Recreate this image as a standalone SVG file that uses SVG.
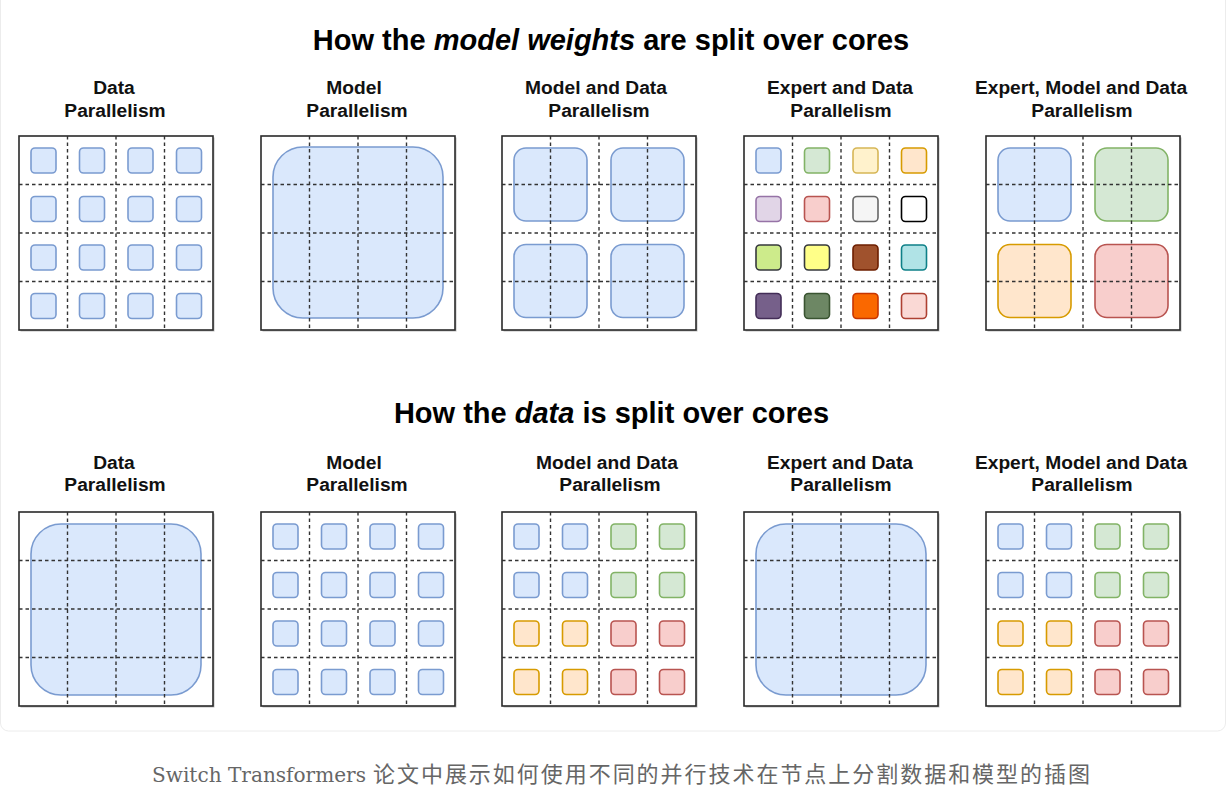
<svg xmlns="http://www.w3.org/2000/svg" xmlns:xlink="http://www.w3.org/1999/xlink" width="1226" height="799" viewBox="0 0 1226 799">
<style>
.title{font-family:"Liberation Sans",Arial,sans-serif;font-weight:bold;font-size:29px;fill:#000;text-anchor:middle}
.lbl{font-family:"Liberation Sans",Arial,sans-serif;font-weight:bold;font-size:19.2px;fill:#111;text-anchor:middle}
.frame{fill:#fff;stroke:#2a2a2a;stroke-width:1.6}
.shadow{fill:#bdbdbd}
.grid{fill:none;stroke:#333;stroke-width:1.4;stroke-dasharray:3.5 3}
.b{fill:#dae8fc;stroke:#7a9bd0;stroke-width:1.6}
.g{fill:#d5e8d4;stroke:#82b366;stroke-width:1.6}
.y{fill:#fff2cc;stroke:#d6b656;stroke-width:1.6}
.o{fill:#ffe6cc;stroke:#d79b00;stroke-width:1.6}
.p{fill:#e1d5e7;stroke:#9673a6;stroke-width:1.6}
.r{fill:#f8cecc;stroke:#b85450;stroke-width:1.6}
.gr{fill:#f5f5f5;stroke:#666;stroke-width:1.6}
.w{fill:#fff;stroke:#000;stroke-width:1.6}
.li{fill:#cdeb8b;stroke:#36393d;stroke-width:1.6}
.yb{fill:#ffff88;stroke:#36393d;stroke-width:1.6}
.br{fill:#a0522d;stroke:#6d1f00;stroke-width:1.6}
.te{fill:#b0e3e6;stroke:#0e8088;stroke-width:1.6}
.dp{fill:#76608a;stroke:#432d57;stroke-width:1.6}
.dg{fill:#6d8764;stroke:#3a5431;stroke-width:1.6}
.bo{fill:#fa6800;stroke:#c73500;stroke-width:1.6}
.pk{fill:#fad9d5;stroke:#ae4132;stroke-width:1.6}
.cap{font-size:22px;fill:#666}
</style>
<defs>
<g id="base"><rect class="shadow" x="1.5" y="1.5" width="194" height="194"/><rect class="frame" width="194" height="194"/></g>
<path id="grid" class="grid" d="M48.5 0V194M97 0V194M145.5 0V194M0 48.5H194M0 97H194M0 145.5H194"/>
</defs>
<rect x="0.5" y="-20" width="1225" height="751" rx="8" fill="#fff" stroke="#ececec"/>

<text class="title" x="611" y="50">How the <tspan font-style="italic">model weights</tspan> are split over cores</text>
<text class="title" x="611.5" y="423">How the <tspan font-style="italic">data</tspan> is split over cores</text>

<g id="top-data">
<text class="lbl" x="114" y="94">Data</text><text class="lbl" x="115" y="116.5">Parallelism</text>
<g transform="translate(19,136)">
<use xlink:href="#base"/>
<g class="b">
<rect x="12" y="12" width="25" height="25" rx="4"/><rect x="60.5" y="12" width="25" height="25" rx="4"/><rect x="109" y="12" width="25" height="25" rx="4"/><rect x="157.5" y="12" width="25" height="25" rx="4"/>
<rect x="12" y="60.5" width="25" height="25" rx="4"/><rect x="60.5" y="60.5" width="25" height="25" rx="4"/><rect x="109" y="60.5" width="25" height="25" rx="4"/><rect x="157.5" y="60.5" width="25" height="25" rx="4"/>
<rect x="12" y="109" width="25" height="25" rx="4"/><rect x="60.5" y="109" width="25" height="25" rx="4"/><rect x="109" y="109" width="25" height="25" rx="4"/><rect x="157.5" y="109" width="25" height="25" rx="4"/>
<rect x="12" y="157.5" width="25" height="25" rx="4"/><rect x="60.5" y="157.5" width="25" height="25" rx="4"/><rect x="109" y="157.5" width="25" height="25" rx="4"/><rect x="157.5" y="157.5" width="25" height="25" rx="4"/>
</g>
<use xlink:href="#grid"/>
</g>
</g>

<g id="top-model">
<text class="lbl" x="354" y="94">Model</text><text class="lbl" x="357" y="116.5">Parallelism</text>
<g transform="translate(261,136)">
<use xlink:href="#base"/>
<rect class="b" x="12" y="11" width="170" height="171" rx="30"/>
<use xlink:href="#grid"/>
</g>
</g>

<g id="top-model-data">
<text class="lbl" x="596" y="94">Model and Data</text><text class="lbl" x="599" y="116.5">Parallelism</text>
<g transform="translate(502,136)">
<use xlink:href="#base"/>
<rect class="b" x="12" y="12" width="73" height="73" rx="12"/><rect class="b" x="109" y="12" width="73" height="73" rx="12"/>
<rect class="b" x="12" y="108.5" width="73" height="73" rx="12"/><rect class="b" x="109" y="108.5" width="73" height="73" rx="12"/>
<use xlink:href="#grid"/>
</g>
</g>

<g id="top-expert-data">
<text class="lbl" x="840" y="94">Expert and Data</text><text class="lbl" x="841" y="116.5">Parallelism</text>
<g transform="translate(744,136)">
<use xlink:href="#base"/>
<rect class="b" x="12" y="12" width="25" height="25" rx="4"/><rect class="g" x="60.5" y="12" width="25" height="25" rx="4"/><rect class="y" x="109" y="12" width="25" height="25" rx="4"/><rect class="o" x="157.5" y="12" width="25" height="25" rx="4"/>
<rect class="p" x="12" y="60.5" width="25" height="25" rx="4"/><rect class="r" x="60.5" y="60.5" width="25" height="25" rx="4"/><rect class="gr" x="109" y="60.5" width="25" height="25" rx="4"/><rect class="w" x="157.5" y="60.5" width="25" height="25" rx="4"/>
<rect class="li" x="12" y="109" width="25" height="25" rx="4"/><rect class="yb" x="60.5" y="109" width="25" height="25" rx="4"/><rect class="br" x="109" y="109" width="25" height="25" rx="4"/><rect class="te" x="157.5" y="109" width="25" height="25" rx="4"/>
<rect class="dp" x="12" y="157.5" width="25" height="25" rx="4"/><rect class="dg" x="60.5" y="157.5" width="25" height="25" rx="4"/><rect class="bo" x="109" y="157.5" width="25" height="25" rx="4"/><rect class="pk" x="157.5" y="157.5" width="25" height="25" rx="4"/>
<use xlink:href="#grid"/>
</g>
</g>

<g id="top-expert-model-data">
<text class="lbl" x="1081" y="94">Expert, Model and Data</text><text class="lbl" x="1082" y="116.5">Parallelism</text>
<g transform="translate(986,136)">
<use xlink:href="#base"/>
<rect class="b" x="12" y="12" width="73" height="73" rx="12"/><rect class="g" x="109" y="12" width="73" height="73" rx="12"/>
<rect class="o" x="12" y="108.5" width="73" height="73" rx="12"/><rect class="r" x="109" y="108.5" width="73" height="73" rx="12"/>
<use xlink:href="#grid"/>
</g>
</g>

<g id="bottom-data">
<text class="lbl" x="114" y="468.5">Data</text><text class="lbl" x="115" y="490.5">Parallelism</text>
<g transform="translate(19,512)">
<use xlink:href="#base"/>
<rect class="b" x="12" y="12" width="170" height="171" rx="30"/>
<use xlink:href="#grid"/>
</g>
</g>

<g id="bottom-model">
<text class="lbl" x="354" y="468.5">Model</text><text class="lbl" x="357" y="490.5">Parallelism</text>
<g transform="translate(261,512)">
<use xlink:href="#base"/>
<g class="b">
<rect x="12" y="12" width="25" height="25" rx="4"/><rect x="60.5" y="12" width="25" height="25" rx="4"/><rect x="109" y="12" width="25" height="25" rx="4"/><rect x="157.5" y="12" width="25" height="25" rx="4"/>
<rect x="12" y="60.5" width="25" height="25" rx="4"/><rect x="60.5" y="60.5" width="25" height="25" rx="4"/><rect x="109" y="60.5" width="25" height="25" rx="4"/><rect x="157.5" y="60.5" width="25" height="25" rx="4"/>
<rect x="12" y="109" width="25" height="25" rx="4"/><rect x="60.5" y="109" width="25" height="25" rx="4"/><rect x="109" y="109" width="25" height="25" rx="4"/><rect x="157.5" y="109" width="25" height="25" rx="4"/>
<rect x="12" y="157.5" width="25" height="25" rx="4"/><rect x="60.5" y="157.5" width="25" height="25" rx="4"/><rect x="109" y="157.5" width="25" height="25" rx="4"/><rect x="157.5" y="157.5" width="25" height="25" rx="4"/>
</g>
<use xlink:href="#grid"/>
</g>
</g>

<g id="bottom-model-data">
<text class="lbl" x="607" y="468.5">Model and Data</text><text class="lbl" x="610" y="490.5">Parallelism</text>
<g transform="translate(502,512)">
<use xlink:href="#base"/>
<rect class="b" x="12" y="12" width="25" height="25" rx="4"/><rect class="b" x="60.5" y="12" width="25" height="25" rx="4"/><rect class="g" x="109" y="12" width="25" height="25" rx="4"/><rect class="g" x="157.5" y="12" width="25" height="25" rx="4"/>
<rect class="b" x="12" y="60.5" width="25" height="25" rx="4"/><rect class="b" x="60.5" y="60.5" width="25" height="25" rx="4"/><rect class="g" x="109" y="60.5" width="25" height="25" rx="4"/><rect class="g" x="157.5" y="60.5" width="25" height="25" rx="4"/>
<rect class="o" x="12" y="109" width="25" height="25" rx="4"/><rect class="o" x="60.5" y="109" width="25" height="25" rx="4"/><rect class="r" x="109" y="109" width="25" height="25" rx="4"/><rect class="r" x="157.5" y="109" width="25" height="25" rx="4"/>
<rect class="o" x="12" y="157.5" width="25" height="25" rx="4"/><rect class="o" x="60.5" y="157.5" width="25" height="25" rx="4"/><rect class="r" x="109" y="157.5" width="25" height="25" rx="4"/><rect class="r" x="157.5" y="157.5" width="25" height="25" rx="4"/>
<use xlink:href="#grid"/>
</g>
</g>

<g id="bottom-expert-data">
<text class="lbl" x="840" y="468.5">Expert and Data</text><text class="lbl" x="841" y="490.5">Parallelism</text>
<g transform="translate(744,512)">
<use xlink:href="#base"/>
<rect class="b" x="12" y="12" width="170" height="171" rx="30"/>
<use xlink:href="#grid"/>
</g>
</g>

<g id="bottom-expert-model-data">
<text class="lbl" x="1081" y="468.5">Expert, Model and Data</text><text class="lbl" x="1082" y="490.5">Parallelism</text>
<g transform="translate(986,512)">
<use xlink:href="#base"/>
<rect class="b" x="12" y="12" width="25" height="25" rx="4"/><rect class="b" x="60.5" y="12" width="25" height="25" rx="4"/><rect class="g" x="109" y="12" width="25" height="25" rx="4"/><rect class="g" x="157.5" y="12" width="25" height="25" rx="4"/>
<rect class="b" x="12" y="60.5" width="25" height="25" rx="4"/><rect class="b" x="60.5" y="60.5" width="25" height="25" rx="4"/><rect class="g" x="109" y="60.5" width="25" height="25" rx="4"/><rect class="g" x="157.5" y="60.5" width="25" height="25" rx="4"/>
<rect class="o" x="12" y="109" width="25" height="25" rx="4"/><rect class="o" x="60.5" y="109" width="25" height="25" rx="4"/><rect class="r" x="109" y="109" width="25" height="25" rx="4"/><rect class="r" x="157.5" y="109" width="25" height="25" rx="4"/>
<rect class="o" x="12" y="157.5" width="25" height="25" rx="4"/><rect class="o" x="60.5" y="157.5" width="25" height="25" rx="4"/><rect class="r" x="109" y="157.5" width="25" height="25" rx="4"/><rect class="r" x="157.5" y="157.5" width="25" height="25" rx="4"/>
<use xlink:href="#grid"/>
</g>
</g>

<g id="connectors"/>

<text class="cap" y="782"><tspan x="152" font-family="'DejaVu Serif','Liberation Serif',serif" font-size="20" textLength="214" lengthAdjust="spacingAndGlyphs">Switch Transformers</tspan><tspan x="373" font-family="'Noto Sans CJK SC',sans-serif" textLength="717">论文中展示如何使用不同的并行技术在节点上分割数据和模型的插图</tspan></text>
</svg>
